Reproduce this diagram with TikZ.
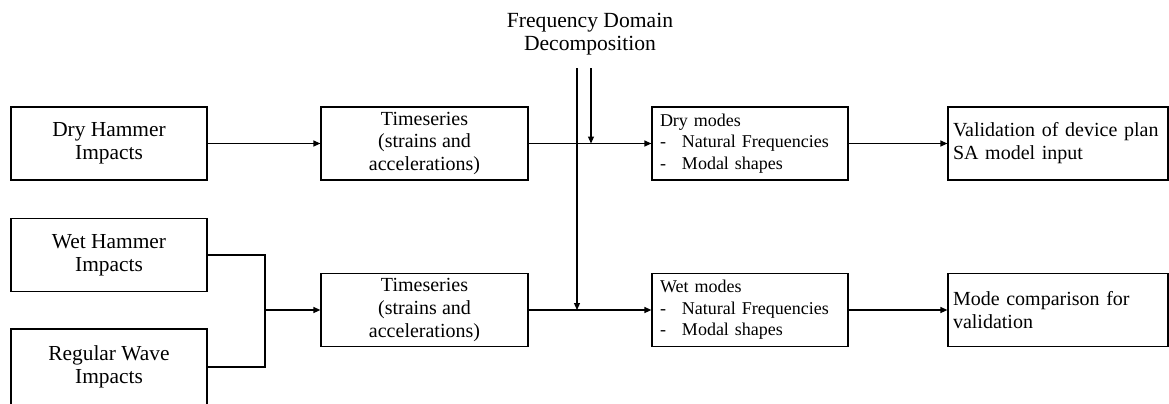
\documentclass[tikz,border=0pt]{standalone}
\usepackage{fontspec}
\setmainfont{Liberation Serif}
\usepackage{tikz}
\usetikzlibrary{shapes,arrows,positioning,calc,arrows.meta}

\begin{document}
\begin{tikzpicture}[x=0.5pt,y=-0.5pt,
    box/.style={draw, line width=0.6pt, minimum height=36.5pt, minimum width=98pt,
        inner sep=2pt, align=center, font=\fontsize{10}{11.5}\selectfont},
    inbox/.style={box, font=\fontsize{10.7}{11.5}\selectfont},
    listbox/.style={box, align=left, inner xsep=4pt, text width=90pt,
        font=\fontsize{9}{10.8}\selectfont},
    endbox/.style={box, align=left, inner xsep=2.5pt, text width=105pt},
    flow/.style={line width=0.6pt, -{Triangle[length=3.5pt,width=3pt]}},
    link/.style={line width=0.6pt}]
    \useasboundingbox (0,0) rectangle (1169,403);

    \node[inbox] (dry) at (109,143.5) {Dry Hammer\\Impacts};
    \node[inbox] (wet) at (109,255) {Wet Hammer\\Impacts};
    \node[inbox, minimum height=38pt] (wave) at (109,367) {Regular Wave\\Impacts};

    \node[box, minimum width=103.5pt] (tsdry) at (424.5,143.5) {Timeseries\\(strains and\\accelerations)};
    \node[box, minimum width=103.5pt] (tswet) at (424.5,310) {Timeseries\\(strains and\\accelerations)};

    \node[listbox] (drymodes) at (750,143.5) {Dry modes\\\makebox[11pt][l]{-}Natural Frequencies\\\makebox[11pt][l]{-}Modal shapes};
    \node[listbox] (wetmodes) at (750,310) {Wet modes\\\makebox[11pt][l]{-}Natural Frequencies\\\makebox[11pt][l]{-}Modal shapes};

    \node[endbox] (validation) at (1058,143.5) {Validation of device plan\\SA model input};
    \node[endbox] (comparison) at (1058,310) {Mode comparison for\\validation};

    \node[align=center, font=\fontsize{10.8}{11.5}\selectfont] (fdd) at (590,34) {Frequency Domain\\Decomposition};
    \coordinate (fddwet) at (577,68);
    \coordinate (fdddry) at (591,68);
    \coordinate (hitwet) at (577,310);
    \coordinate (hitdry) at (591,143.5);
    \coordinate (merge) at (265,310);

    \draw[flow] (dry) -- (tsdry);
    \draw[link] (wet.east) -| (merge);
    \draw[link] (wave.east) -| (merge);
    \draw[flow] (merge) -- (tswet);

    \draw[flow] (tsdry) -- (drymodes);
    \draw[flow] (tswet) -- (wetmodes);
    \draw[flow] (fddwet) -- (hitwet);
    \draw[flow] (fdddry) -- (hitdry);

    \draw[flow] (drymodes) -- (validation);
    \draw[flow] (wetmodes) -- (comparison);
\end{tikzpicture}
\end{document}
